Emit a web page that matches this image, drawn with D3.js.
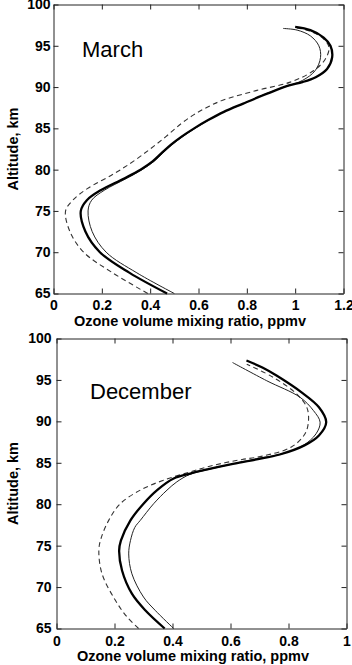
<!DOCTYPE html>
<html>
<head>
<meta charset="utf-8">
<script src="https://cdn.jsdelivr.net/npm/d3@7"></script>
<style>
  body { margin: 0; background: #fff; }
  svg { display: block; font-family: "Liberation Sans", Arial, sans-serif; }
  .tick text { font-size: 14px; font-weight: bold; fill: #000; }
  .tick line, .domain { stroke: #222; }
</style>
</head>
<body>
<script>
// [altitude km, ozone vmr ppmv]
const marchThick = [[65,0.47],[67.5,0.315],[70,0.192],[72.5,0.132],[75,0.113],[76.3,0.138],[77.5,0.195],[78.9,0.29],[80,0.36],[81,0.41],[82,0.447],[83,0.485],[84,0.53],[85,0.582],[86,0.64],[87,0.705],[88,0.785],[89.2,0.884],[90.2,0.975],[90.6,1.03],[91.2,1.085],[92.2,1.132],[93.6,1.153],[95,1.146],[96,1.118],[96.9,1.063],[97.3,1.0]];
const marchThin = [[65,0.5],[67.5,0.345],[70,0.218],[72.5,0.16],[75,0.143],[76.3,0.158],[77.5,0.21],[78.9,0.3],[80,0.367],[81,0.416],[82,0.452],[83,0.49],[84,0.535],[85,0.586],[86,0.642],[87,0.705],[88,0.785],[89.2,0.88],[90,0.955],[90.8,1.03],[92,1.083],[93.6,1.105],[95,1.098],[96.2,1.063],[96.9,1.008],[97.1,0.95]];
const marchDash = [[65,0.39],[67.5,0.245],[70,0.125],[72.5,0.068],[75,0.05],[76.3,0.08],[77.7,0.14],[79.5,0.25],[81,0.33],[82.5,0.4],[84,0.465],[85.5,0.525],[86.6,0.578],[87.5,0.632],[88.4,0.7],[89.6,0.842],[90.6,0.98],[92,1.077],[93.4,1.125],[94.8,1.14],[95.9,1.115],[96.8,1.06],[97.2,1.0]];

const decThick = [[65,0.373],[67.2,0.306],[69.2,0.26],[72,0.226],[74.4,0.216],[75.6,0.222],[78.05,0.255],[80.06,0.3],[81.7,0.347],[83.1,0.404],[83.7,0.461],[84.2,0.52],[84.8,0.6],[85.4,0.69],[86,0.77],[87.1,0.855],[88.3,0.905],[89.9,0.93],[91.7,0.905],[93.5,0.845],[95.5,0.76],[96.5,0.71],[97.35,0.655]];
const decThin = [[65,0.404],[67.2,0.34],[68.8,0.3],[71.6,0.26],[74,0.249],[75.6,0.255],[77.2,0.27],[78.05,0.289],[80.06,0.335],[81.7,0.381],[82.7,0.415],[83.6,0.46],[84.2,0.525],[84.8,0.6],[85.5,0.69],[86.1,0.78],[87.1,0.851],[88.5,0.895],[89.9,0.909],[91.3,0.886],[92.9,0.84],[94.9,0.725],[97.1,0.607]];
const decDash = [[65,0.283],[66.4,0.243],[68.4,0.203],[71.6,0.157],[74.4,0.146],[75.8,0.153],[78.05,0.18],[80.06,0.22],[81.7,0.289],[82.9,0.369],[83.9,0.461],[84.5,0.52],[85,0.58],[85.4,0.64],[85.8,0.71],[86.9,0.81],[88.5,0.857],[90.1,0.869],[91.7,0.863],[93.3,0.828],[95.3,0.748],[96.9,0.656]];

const altTicks = [65, 70, 75, 80, 85, 90, 95, 100];
const marchTicks = [0, 0.2, 0.4, 0.6, 0.8, 1, 1.2];
const decTicks = [0, 0.2, 0.4, 0.6, 0.8, 1];

const svg = d3.select('body').append('svg')
    .attr('width', 352)
    .attr('height', 665);

function panel(o) {
    const x = d3.scaleLinear().domain([0, o.xmax]).range([o.left, o.left + o.w]);
    const y = d3.scaleLinear().domain([65, 100]).range([o.top + o.h, o.top]);
    const fmt = d3.format('~g');

    // axes, ticks point inward on all four sides
    svg.append('g').attr('transform', `translate(0,${o.top + o.h})`)
        .call(d3.axisBottom(x).tickValues(o.ticks).tickFormat(fmt).tickSizeInner(-5).tickSizeOuter(0).tickPadding(o.xpad));
    svg.append('g').attr('transform', `translate(0,${o.top})`)
        .call(d3.axisTop(x).tickValues(o.ticks).tickFormat('').tickSizeInner(-5).tickSizeOuter(0));
    svg.append('g').attr('transform', `translate(${o.left},0)`)
        .call(d3.axisLeft(y).tickValues(altTicks).tickFormat(fmt).tickSizeInner(-5).tickSizeOuter(0).tickPadding(o.ypad));
    svg.append('g').attr('transform', `translate(${o.left + o.w},0)`)
        .call(d3.axisRight(y).tickValues(altTicks).tickFormat('').tickSizeInner(-5).tickSizeOuter(0));

    const line = d3.line()
        .x(d => x(d[1]))
        .y(d => y(d[0]))
        .curve(d3.curveCatmullRom.alpha(0.5));

    svg.append('path').datum(o.dash).attr('d', line)
        .attr('fill', 'none').attr('stroke', '#333').attr('stroke-width', 1.1).attr('stroke-dasharray', '5,3.5');
    svg.append('path').datum(o.thin).attr('d', line)
        .attr('fill', 'none').attr('stroke', '#222').attr('stroke-width', 1);
    svg.append('path').datum(o.thick).attr('d', line)
        .attr('fill', 'none').attr('stroke', '#000').attr('stroke-width', 2.3);

    // month label
    svg.append('text')
        .attr('x', o.labelX).attr('y', o.labelY)
        .style('font-size', '22px')
        .text(o.label);

    // axis titles
    svg.append('text')
        .attr('x', o.titleX).attr('y', o.titleY)
        .attr('text-anchor', 'middle')
        .style('font-size', '14.5px').style('font-weight', 'bold')
        .text('Ozone volume mixing ratio, ppmv');
    svg.append('text')
        .attr('transform', `translate(18,${o.top + o.h / 2}) rotate(-90)`)
        .attr('text-anchor', 'middle')
        .style('font-size', '14.5px').style('font-weight', 'bold')
        .text('Altitude, km');
}

panel({ left: 53.5, top: 4.5, w: 290, h: 289, xmax: 1.2, ticks: marchTicks, xpad: 7, ypad: 3,
        thick: marchThick, thin: marchThin, dash: marchDash,
        label: 'March', labelX: 82, labelY: 57, titleX: 190, titleY: 326 });

panel({ left: 56.5, top: 338.5, w: 290, h: 290, xmax: 1, ticks: decTicks, xpad: 8, ypad: 5,
        thick: decThick, thin: decThin, dash: decDash,
        label: 'December', labelX: 90, labelY: 399, titleX: 193, titleY: 661 });
</script>
</body>
</html>
